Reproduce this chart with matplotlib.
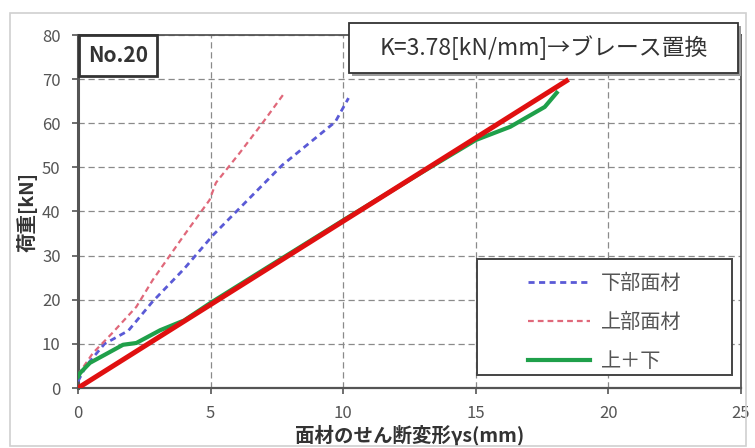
import matplotlib
matplotlib.use("Agg")
import matplotlib.pyplot as plt
from matplotlib.patches import Rectangle

plt.rcParams['font.family'] = ['Noto Sans CJK JP', 'DejaVu Sans']

# Load-deformation data (shear deformation of panels, mm / load, kN)
lower_x = [0.0, 0.3, 1.0, 1.9, 2.8, 4.0, 5.1, 7.7, 9.7, 10.2]
lower_y = [1.5, 5.0, 10.0, 13.0, 19.5, 27.0, 34.7, 50.5, 60.3, 65.7]

upper_x = [0.0, 0.56, 1.3, 2.2, 2.82, 3.95, 4.96, 5.2, 6.1, 6.95, 7.8]
upper_y = [3.0, 7.9, 12.5, 18.4, 24.5, 34.2, 42.6, 46.5, 53.3, 60.0, 67.0]

total_x = [0.0, 0.08, 0.45, 1.0, 1.7, 2.2, 3.1, 4.0, 5.0, 7.0, 10.0, 13.0, 15.0, 16.3, 17.6, 18.05]
total_y = [2.5, 3.4, 5.7, 7.5, 9.8, 10.2, 13.1, 15.3, 19.3, 26.8, 38.0, 49.0, 56.2, 59.2, 63.7, 66.9]

stiffness_K = 3.78          # kN/mm
brace_x = [0.0, 18.5]
brace_y = [stiffness_K * v for v in brace_x]

x_ticks = [0, 5, 10, 15, 20, 25]
y_ticks = [0, 10, 20, 30, 40, 50, 60, 70, 80]

W, H = 755, 448
fig = plt.figure(figsize=(W / 100, H / 100), dpi=100)
fig.patch.set_facecolor('white')


def fig_rect(x0, y0, x1, y1, **kw):
    """Rectangle given in pixel coordinates measured from the top-left corner."""
    return Rectangle((x0 / W, 1 - y1 / H), (x1 - x0) / W, (y1 - y0) / H,
                     transform=fig.transFigure, **kw)


# outer chart frame
fig.patches.append(fig_rect(10, 13, 746, 446, fill=False, edgecolor='#d0d0d0', lw=1.2))

L, R, T, B = 78, 741, 35, 388
ax = fig.add_axes([L / W, 1 - B / H, (R - L) / W, (B - T) / H])

ax.plot(lower_x, lower_y, color='#5a5ad6', lw=2.0, ls=(0, (2.2, 1.6)),
        label='下部面材', zorder=3)
ax.plot(upper_x, upper_y, color='#e0687a', lw=1.6, ls=(0, (2.6, 1.8)),
        label='上部面材', zorder=3)
ax.plot(total_x, total_y, color='#1fa04a', lw=3.0, label='上＋下', zorder=4)
ax.plot(brace_x, brace_y, color='#e01010', lw=3.6, zorder=5,
        solid_capstyle='butt')

ax.set_xlim(0, 25)
ax.set_ylim(0, 80)
ax.set_xticks(x_ticks)
ax.set_yticks(y_ticks)
ax.grid(True, color='#8a8a8a', lw=0.9, ls=(0, (5, 3)))
ax.set_axisbelow(True)
ax.tick_params(direction='out', length=4, width=1.2, colors='#555555',
               labelsize=12, pad=8.5)
for s in ax.spines.values():
    s.set_color('#555555')
    s.set_linewidth(1.3)
ax.spines['left'].set_linewidth(2.2)
ax.spines['bottom'].set_linewidth(1.6)

ax.set_xlabel('面材のせん断変形γs(mm)', fontsize=14, fontweight='bold',
              color='#333333', labelpad=2)
ax.set_ylabel('荷重[kN]', fontsize=14, fontweight='bold', color='#333333',
              labelpad=3)

# specimen label box
fig.patches.append(fig_rect(79, 35, 157, 76, fc='white', ec='#333333', lw=2.0, zorder=6))
fig.text(118 / W, 1 - 56 / H, 'No.20', fontsize=15, fontweight='bold',
         color='#333333', ha='center', va='center', zorder=7)

# stiffness box with drop shadow
bx0, by0, bx1, by1 = 349, 23, 738, 73
fig.patches.append(fig_rect(bx0 + 3, by0 + 3, bx1 + 3, by1 + 3, fc='#9a9a9a', ec='none', zorder=5))
fig.patches.append(fig_rect(bx0, by0, bx1, by1, fc='white', ec='#333333', lw=1.3, zorder=6))
fig.text((bx0 + bx1) / 2 / W + 0.5 / W, 1 - (by0 + by1) / 2 / H,
         'K=3.78[kN/mm]→ブレース置換', fontsize=16.5, color='#333333',
         ha='center', va='center', zorder=7)

# legend box
lx0, ly0, lx1, ly1 = 477, 259, 732, 375
ax.add_patch(Rectangle(((lx0 - L) / (R - L), (B - ly1) / (B - T)),
                       (lx1 - lx0) / (R - L), (ly1 - ly0) / (B - T),
                       transform=ax.transAxes, fc='white', ec='#444444',
                       lw=1.4, zorder=6))
leg = ax.legend(loc='upper left', bbox_to_anchor=((528 - L) / (R - L), (B - 273) / (B - T)),
                borderaxespad=0, borderpad=0, frameon=False, fontsize=14.5,
                handlelength=3.1, handletextpad=0.5, labelspacing=0.9)
leg.set_zorder(7)
for t in leg.get_texts():
    t.set_color('#555555')

fig.savefig('out.png', dpi=100)
